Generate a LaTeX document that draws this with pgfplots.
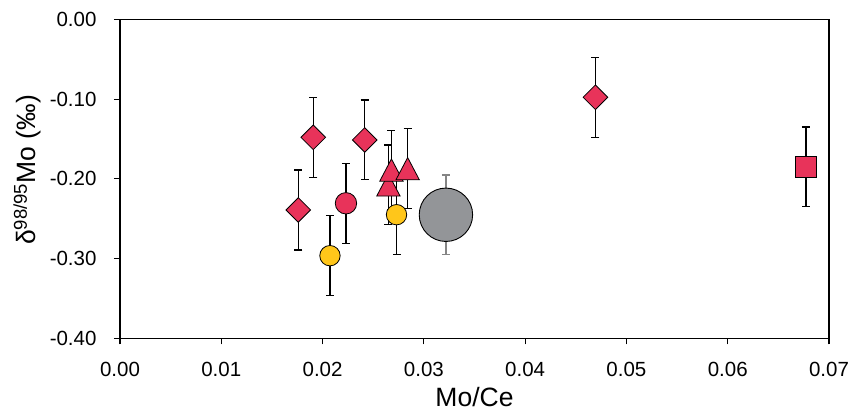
\documentclass[border=0pt]{standalone}
\usepackage{fontspec}
\setmainfont{Liberation Sans}
\usepackage{pgfplots}
\pgfplotsset{compat=1.18}
\definecolor{mred}{HTML}{E8335A}
\definecolor{myel}{HTML}{FFC61A}
\definecolor{mgray}{HTML}{939598}
\definecolor{ebgray}{HTML}{858585}
\pgfplotstableread{
x y e
0.01908 -0.1480 0.05
0.02416 -0.1513 0.05
0.01760 -0.2391 0.05
0.04694 -0.0978 0.05
}\diamonds
\pgfplotstableread{
x y e
0.02231 -0.2307 0.05
}\redcirc
\pgfplotstableread{
x y e
0.0265 -0.2077 0.05
0.0268 -0.1890 0.05
0.0284 -0.1873 0.05
}\triangles
\pgfplotstableread{
x y e
0.06772 -0.1850 0.05
}\squares
\pgfplotstableread{
x y e
0.02073 -0.2964 0.05
0.02730 -0.2450 0.05
}\yellow
\pgfplotstableread{
x y e
0.03218 -0.2451 0.05
}\graycirc
\begin{document}
\begin{tikzpicture}
\useasboundingbox (-120bp,-75.7bp) rectangle (728bp,338.3bp);
\begin{axis}[
  at={(0,0)}, anchor=south west,
  scale only axis, width=709bp, height=319bp,
  xmin=0, xmax=0.07, ymin=-0.4, ymax=0,
  xtick={0,0.01,0.02,0.03,0.04,0.05,0.06,0.07},
  ytick={-0.4,-0.3,-0.2,-0.1,0},
  scaled x ticks=false, scaled y ticks=false,
  /pgf/number format/fixed,
  /pgf/number format/fixed zerofill,
  /pgf/number format/precision=2,
  /pgf/number format/assume math mode=true,
  tick align=outside, xtick pos=bottom, ytick pos=left,
  major tick length=6bp,
  axis line style={line width=1.1bp},
  every tick/.style={black, line width=1.1bp},
  xticklabel style={font=\fontsize{20.5bp}{24bp}\selectfont, yshift=-14bp},
  yticklabel style={font=\fontsize{20.5bp}{24bp}\selectfont, xshift=-14bp},
  xlabel style={font=\fontsize{26.5bp}{30bp}\selectfont, at={(axis description cs:0.5,0)}, anchor=base, yshift=-68.4bp},
  ylabel style={font=\fontsize{26.5bp}{30bp}\selectfont, at={(axis description cs:-0.1305,0.5276)}, anchor=center},
  xlabel={Mo/Ce},
  ylabel={δ\textsuperscript{98/95}Mo (‰)},
  clip=false,
]
% error bars first
\pgfplotsset{ebar/.style={draw=none, mark=none, error bars/.cd, y dir=both, y explicit,
   error bar style={black, line width=1.3bp},
   error mark options={rotate=90, mark size=4bp, line width=1.3bp, black}}}
\addplot[ebar] table[x=x,y=y,y error=e] {\diamonds};
\addplot[ebar] table[x=x,y=y,y error=e] {\redcirc};
\addplot[ebar] table[x=x,y=y,y error=e] {\triangles};
\addplot[ebar] table[x=x,y=y,y error=e] {\squares};
\addplot[ebar] table[x=x,y=y,y error=e] {\yellow};
\addplot[draw=none, mark=none, error bars/.cd, y dir=both, y explicit,
   error bar style={ebgray, line width=1.3bp},
   error mark options={rotate=90, mark size=4bp, line width=1.3bp, ebgray}]
   table[x=x,y=y,y error=e] {\graycirc};
% markers
\addplot[only marks, mark=square*, mark size=8.7bp,
   mark options={rotate=45, fill=mred, draw=black, line width=0.8bp}] table[x=x,y=y] {\diamonds};
\addplot[only marks, mark=*, mark size=10.7bp,
   mark options={fill=mred, draw=black, line width=0.8bp}] table[x=x,y=y] {\redcirc};
\addplot[only marks, mark=triangle*, mark size=13.5bp,
   mark options={yshift=-3.7bp, yscale=1.1, fill=mred, draw=black, line width=0.8bp}] table[x=x,y=y] {\triangles};
\addplot[only marks, mark=square*, mark size=10.5bp,
   mark options={fill=mred, draw=black, line width=0.8bp}] table[x=x,y=y] {\squares};
\addplot[only marks, mark=*, mark size=10.2bp,
   mark options={fill=myel, draw=black, line width=0.8bp}] table[x=x,y=y] {\yellow};
\addplot[only marks, mark=*, mark size=26.7bp,
   mark options={fill=mgray, draw=black, line width=0.9bp}] table[x=x,y=y] {\graycirc};
\end{axis}
\end{tikzpicture}
\end{document}
